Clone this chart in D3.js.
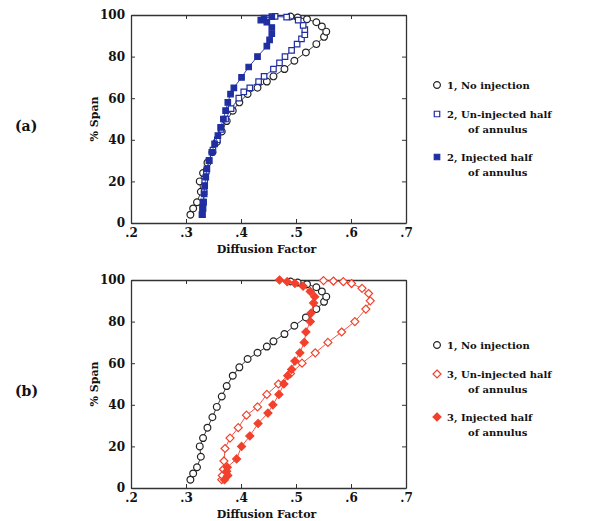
<!DOCTYPE html>
<html>
<head>
<meta charset="utf-8">
<script src="https://cdn.jsdelivr.net/npm/d3@7"></script>
<style>
  body { margin: 0; background: #fff; }
  text { font-family: "DejaVu Serif", serif; font-weight: bold; fill: #111; }
</style>
</head>
<body>
<svg id="chart"></svg>
<script>
// tick labels
const xTicks = [0.2, 0.3, 0.4, 0.5, 0.6, 0.7];
const yTicks = [0, 20, 40, 60, 80, 100];

// 1, No injection (same in both panels)  [span, diffusion factor]
const noInjection = [
  [4, .308], [7, .313], [10, .320], [15, .327], [20, .325], [24, .331], [29, .339],
  [34, .348], [39, .356], [44, .365], [49, .374], [54, .385], [58, .397], [62, .412],
  [65, .430], [68, .447], [70.5, .459], [74, .479], [78, .497], [82, .518], [86, .537],
  [89.5, .551], [92, .555], [94.5, .547], [96.5, .537], [98, .520], [98.8, .503], [99.3, .490]
];

// 2, Un-injected half of annulus
const unInjected2 = [
  [4, .330], [7, .331], [10, .332], [15, .333], [20, .334], [25, .337], [30, .342],
  [35, .349], [40, .357], [45, .364], [50, .372], [55, .382], [60, .396], [63, .405],
  [65, .416], [68, .432], [70.5, .442], [74, .459], [77, .470], [80, .480], [83, .492],
  [86, .502], [88.5, .510], [90.5, .516], [93, .516], [95, .513], [97.5, .504], [99, .483], [99.3, .462]
];

// 2, Injected half of annulus
const injected2 = [
  [4, .329], [7, .330], [10, .331], [14, .333], [18, .334], [22, .336], [26, .338],
  [30, .342], [34, .347], [38, .352], [42, .358], [46, .363], [50, .368], [54, .372],
  [58, .376], [62, .381], [65, .387], [70, .401], [75, .414], [80, .430], [85, .447],
  [88, .452], [91, .456], [94, .456], [96.5, .447], [97.5, .436], [98.5, .442], [99.2, .456]
];

// 3, Un-injected half of annulus
const unInjected3 = [
  [4, .365], [6, .366], [9, .368], [13, .369], [19, .371], [24, .380], [29, .395],
  [35, .410], [39, .430], [45, .447], [50, .468], [55, .490], [60, .511], [65, .535],
  [70, .558], [75, .583], [80, .607], [86, .627], [90, .635], [93.5, .632], [96, .620],
  [98.3, .601], [99.2, .586], [99.5, .568], [99.7, .550]
];

// 3, Injected half of annulus
const injected3 = [
  [4, .370], [6, .376], [8, .374], [10, .375], [14, .392], [20, .401], [25, .416],
  [31, .431], [36, .449], [40, .458], [45, .469], [50, .478], [54, .485], [57, .492],
  [61, .498], [65, .507], [70, .515], [75, .518], [80, .526], [84, .527], [89, .532],
  [92, .534], [94.5, .526], [97, .513], [98.4, .498], [99.2, .484], [100, .470]
];

const BLUE = "#1f2ea0", RED = "#f2402c", BLACK = "#222";

const panels = [
  { label: "(a)", top: 15, legendY: 85, series: [
      { data: noInjection, color: BLACK, shape: "circle", fill: false, lines: ["1, No injection"] },
      { data: unInjected2, color: BLUE, shape: "square", fill: false, lines: ["2, Un-injected half", "of annulus"] },
      { data: injected2, color: BLUE, shape: "square", fill: true, lines: ["2, Injected half", "of annulus"] }
  ]},
  { label: "(b)", top: 280, legendY: 345, series: [
      { data: noInjection, color: BLACK, shape: "circle", fill: false, lines: ["1, No injection"] },
      { data: unInjected3, color: RED, shape: "diamond", fill: false, lines: ["3, Un-injected half", "of annulus"] },
      { data: injected3, color: RED, shape: "diamond", fill: true, lines: ["3, Injected half", "of annulus"] }
  ]}
];

const W = 595, H = 521;
const left = 131, right = 406, ph = 208;

const svg = d3.select("#chart").attr("width", W).attr("height", H);

const x = d3.scaleLinear().domain([0.2, 0.7]).range([left, right]);
const fmtX = d => d3.format(".1f")(d).replace(/^0/, "");

const symbols = {
  circle: d3.symbol().type(d3.symbolCircle).size(36),
  square: d3.symbol().type(d3.symbolSquare).size(30),
  diamond: () => "M0,-4L4,0L0,4L-4,0Z"
};

panels.forEach(p => {
  const y = d3.scaleLinear().domain([0, 100]).range([p.top + ph, p.top]);
  const g = svg.append("g");

  // axes (inward ticks on all four sides)
  const axisStyle = sel => {
    sel.select(".domain").attr("stroke", "#333").attr("stroke-width", 1.3);
    sel.selectAll(".tick line").attr("stroke", "#333");
    sel.selectAll("text").attr("font-family", "DejaVu Serif").attr("font-weight", "bold").attr("fill", "#111");
  };
  g.append("g").attr("transform", `translate(0,${p.top + ph})`)
    .call(d3.axisBottom(x).tickValues(xTicks).tickFormat(fmtX).tickSizeInner(-4).tickSizeOuter(0).tickPadding(5))
    .call(axisStyle).selectAll("text").attr("font-size", 12);
  g.append("g").attr("transform", `translate(0,${p.top})`)
    .call(d3.axisTop(x).tickValues(xTicks).tickFormat("").tickSizeInner(-4).tickSizeOuter(0))
    .call(axisStyle);
  g.append("g").attr("transform", `translate(${left},0)`)
    .call(d3.axisLeft(y).tickValues(yTicks).tickSizeInner(-4).tickSizeOuter(0).tickPadding(6))
    .call(axisStyle).selectAll("text").attr("font-size", 12);
  g.append("g").attr("transform", `translate(${right},0)`)
    .call(d3.axisRight(y).tickValues(yTicks).tickFormat("").tickSizeInner(-4).tickSizeOuter(0))
    .call(axisStyle);

  // axis titles
  g.append("text").attr("x", (left + right) / 2 - 2).attr("y", p.top + ph + 30)
    .attr("text-anchor", "middle").attr("font-size", 11).text("Diffusion Factor");
  g.append("text").attr("transform", `translate(98,${p.top + ph / 2}) rotate(-90)`)
    .attr("text-anchor", "middle").attr("font-size", 11).text("% Span");
  g.append("text").attr("x", 15).attr("y", p.top + 116)
    .attr("font-size", 14).text(p.label);

  // series
  const line = d3.line().x(d => x(d[1])).y(d => y(d[0]));
  p.series.forEach(s => {
    g.append("path").datum(s.data).attr("d", line)
      .attr("fill", "none").attr("stroke", s.color).attr("stroke-width", 0.9);
    g.append("g").selectAll("path").data(s.data).join("path")
      .attr("transform", d => `translate(${x(d[1])},${y(d[0])})`)
      .attr("d", symbols[s.shape])
      .attr("fill", s.fill ? s.color : "#fff")
      .attr("stroke", s.color).attr("stroke-width", 1.2);
  });

  // legend
  let ly = p.legendY;
  p.series.forEach((s, i) => {
    const lg = g.append("g").attr("transform", `translate(437,${ly})`);
    lg.append("path").attr("d", symbols[s.shape])
      .attr("fill", s.fill ? s.color : "#fff")
      .attr("stroke", s.color).attr("stroke-width", 1.2);
    s.lines.forEach((t, j) => {
      lg.append("text").attr("x", j === 0 ? 10 : 31).attr("y", j * 15).attr("dy", "0.35em")
        .attr("font-size", 10).text(t);
    });
    ly += i === 0 ? 29 : 43;
  });
});
</script>
</body>
</html>
